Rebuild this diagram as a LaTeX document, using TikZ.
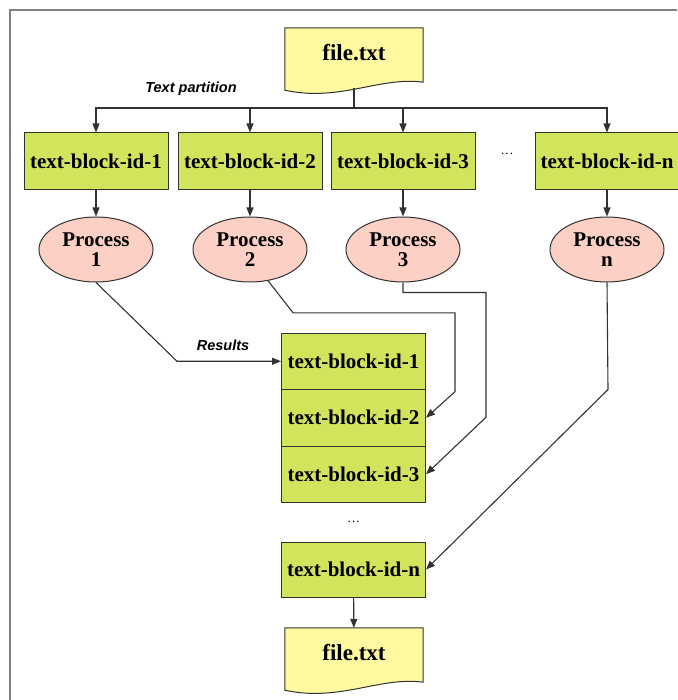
\documentclass[tikz,border=0pt]{standalone}
\usepackage{fontspec}
\setmainfont{Liberation Serif}
\setsansfont{Liberation Sans}
\usetikzlibrary{arrows.meta,shapes.geometric,backgrounds}

\definecolor{blockgreen}{RGB}{210,227,92}
\definecolor{procpink}{RGB}{252,208,196}
\definecolor{docyellow}{RGB}{255,249,160}
\definecolor{linegray}{RGB}{50,50,50}

\tikzset{
  line/.style = {draw=linegray, line width=1.1pt},
  arr/.style = {line, -{Triangle[length=9pt,width=7pt]}},
  blk/.style = {rectangle, draw=linegray, line width=1pt, fill=blockgreen,
    minimum width=144pt, minimum height=57pt, inner sep=0pt,
    font=\fontsize{21}{23}\selectfont\bfseries},
  proc/.style = {ellipse, draw=linegray, line width=1pt, fill=procpink,
    minimum width=114pt, minimum height=65pt, inner sep=0pt, align=center,
    font=\fontsize{21}{20}\selectfont\bfseries},
  docbox/.style = {rectangle, minimum width=138pt, minimum height=50pt, inner sep=0pt,
    font=\fontsize{23}{25}\selectfont\bfseries},
  docshape/.style = {draw=linegray, line width=1pt, fill=docyellow},
  lbl/.style = {font=\fontsize{14.5}{16}\selectfont\sffamily\bfseries\itshape},
  dots/.style = {font=\fontsize{13}{14}\selectfont, inner sep=0pt}
}

\begin{document}
\begin{tikzpicture}[x=1pt, y=-1pt]
  \useasboundingbox (0,0) rectangle (677,700);
  \draw[draw=gray, line width=1.5pt] (10,700) -- (10,10) -- (677,10);

  \node[docbox] (src) at (354,53) {file.txt};
  \begin{scope}[on background layer]
    \filldraw[docshape] (src.north west) -- (src.north east) -- ([yshift=-4pt]src.south east)
      .. controls +(-43,-6) and +(55,12) .. ([yshift=-12pt]src.south west) -- cycle;
  \end{scope}
  \coordinate (split) at (354,108);
  \draw[line] ([yshift=-10pt]src.south) -- (split);
  \node[lbl] (partlbl) at (191,89) {Text partition};

  \foreach \i/\x in {1/96, 2/250, 3/403, n/607} {
    \node[blk] (blk\i) at (\x,161.5) {text-block-id-\i};
    \node[proc] (proc\i) at (\x,249.5) {Process\\\i};
    \draw[arr] (split) -| (blk\i.north);
    \draw[arr] (blk\i) -- (proc\i);
  }
  \node[dots] (rowdots) at (507,154) {\dots};

  \node[blk, minimum height=56.5pt] (cell1) at (353.5,361.25) {text-block-id-1};
  \node[blk, minimum height=56.5pt] (cell2) at (353.5,417.75) {text-block-id-2};
  \node[blk, minimum height=56.5pt] (cell3) at (353.5,474.25) {text-block-id-3};
  \node[dots] (stackdots) at (353.5,522) {\dots};
  \node[blk, minimum height=55pt] (celln) at (353.5,569.5) {text-block-id-n};

  \draw[arr] (proc1.south) -- ([xshift=-104pt]cell1.west) -- (cell1.west);
  \node[lbl] (reslbl) at (223,345) {Results};
  \draw[arr] (proc2.-60) -- ++(25,32) -| ([xshift=29pt,yshift=26pt]cell2.east) -- (cell2.east);
  \draw[arr] (proc3.south) -- ++(0,10) -| ([xshift=60pt,yshift=57pt]cell3.east) -- (cell3.east);
  \draw[arr] (procn.south) -- ([xshift=182pt,yshift=180pt]celln.east) -- (celln.east);

  \node[docbox] (dst) at (354,653) {file.txt};
  \begin{scope}[on background layer]
    \filldraw[docshape] (dst.north west) -- (dst.north east) -- ([yshift=-4pt]dst.south east)
      .. controls +(-43,-6) and +(55,12) .. ([yshift=-12pt]dst.south west) -- cycle;
  \end{scope}
  \draw[arr] (celln) -- (dst);
\end{tikzpicture}
\end{document}
